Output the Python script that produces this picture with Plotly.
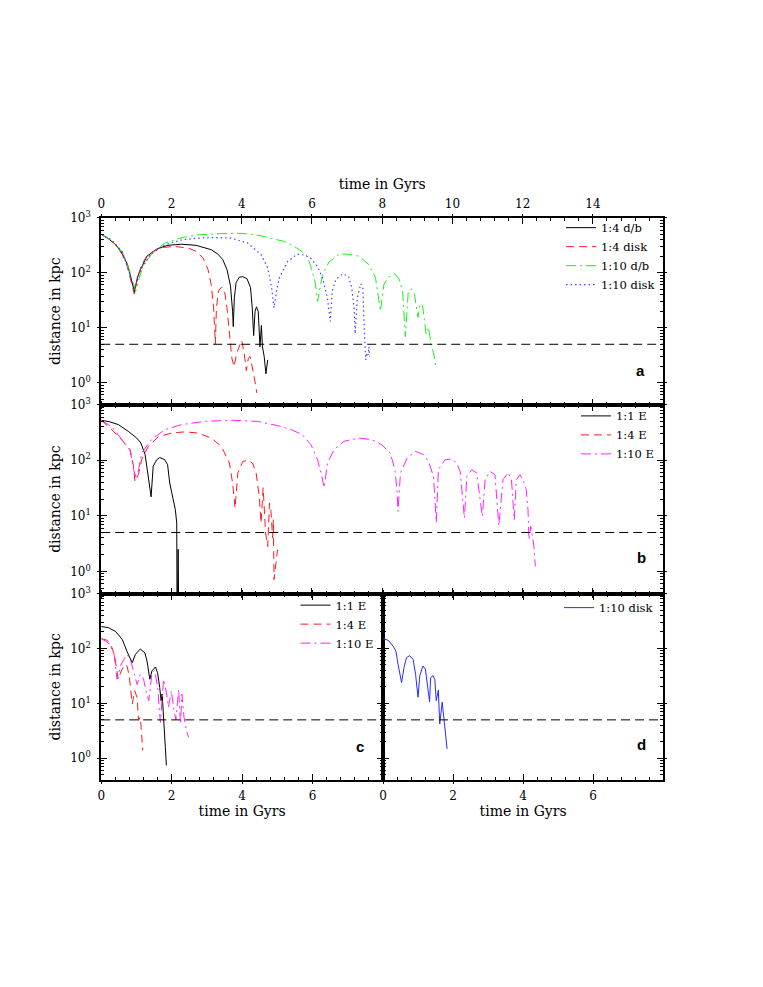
import plotly.graph_objects as go

FONT = "DejaVu Serif"

# ---------------- data: time in Gyr, distance in kpc ----------------
# panel a
a_db4_t = [0, 0.2, 0.4, 0.6, 0.75, 0.85, 0.95, 1.03, 1.12, 1.3, 1.6, 1.9, 2.28, 2.7, 3.0, 3.13, 3.32, 3.46,
           3.58, 3.68, 3.74, 3.76, 3.79, 3.84, 3.93, 4.03, 4.15, 4.25, 4.30, 4.34, 4.38, 4.42, 4.47, 4.52,
           4.56, 4.59, 4.64, 4.69, 4.74]
a_db4_d = [501, 417, 331, 224, 141, 79, 44, 83, 115, 200, 275, 316, 331, 316, 282, 263, 219, 174,
           115, 58, 20, 10.5, 35, 66, 83, 85, 78, 54, 23, 7.2, 20, 24, 20, 4.5,
           11, 4.5, 3.0, 1.45, 2.6]

a_disk4_t = [0, 0.2, 0.4, 0.6, 0.75, 0.87, 0.94, 1.0, 1.15, 1.34, 1.72, 2.09, 2.47, 2.71, 2.9, 3.04, 3.13,
             3.2, 3.25, 3.28, 3.34, 3.43, 3.51, 3.58, 3.66, 3.72, 3.78, 3.86, 4.0, 4.07, 4.13, 4.19, 4.24,
             4.3, 4.37, 4.43]
a_disk4_d = [501, 417, 331, 214, 126, 66, 41, 66, 141, 219, 288, 302, 282, 245, 186, 115, 62,
             23, 5.1, 23, 47, 55, 47, 23, 6.8, 2.8, 1.95, 3.5, 5.9, 3.5, 1.66, 2.8, 3.0,
             2.0, 1.12, 0.65]

a_db10_t = [0, 0.3, 0.6, 0.8, 0.92, 0.99, 1.06, 1.2, 1.45, 1.81, 2.3, 2.75, 3.3, 3.89, 4.3, 4.64, 5.2,
            5.45, 5.73, 5.87, 6.0, 6.1, 6.16, 6.3, 6.49, 6.77, 7.01, 7.34, 7.62, 7.81, 7.95, 8.05, 8.19,
            8.36, 8.47, 8.58, 8.66, 8.74, 8.83, 8.92, 9.02, 9.08, 9.15, 9.25, 9.32, 9.4, 9.46, 9.53]
a_db10_d = [501, 380, 240, 112, 63, 47, 71, 141, 224, 347, 437, 490, 513, 525, 501, 457, 372,
            316, 240, 200, 112, 63, 30, 93, 158, 219, 219, 200, 141, 81, 20, 62, 85,
            95, 79, 47, 6.9, 44, 51, 40, 15.5, 27.5, 25, 7.6, 10.2, 4.5, 3.5, 1.95]

a_disk10_t = [0, 0.3, 0.6, 0.78, 0.93, 1.0, 1.12, 1.4, 1.81, 2.3, 2.75, 3.2, 3.7, 4.17, 4.55, 4.74, 4.85,
              4.92, 5.0, 5.07, 5.3, 5.58, 5.8, 5.97, 6.16, 6.3, 6.44, 6.52, 6.58, 6.68, 6.87, 7.04, 7.13,
              7.2, 7.23, 7.29, 7.39, 7.45, 7.48, 7.5, 7.53, 7.57, 7.6, 7.62, 7.64]
a_disk10_d = [501, 398, 240, 112, 50, 63, 112, 214, 324, 398, 427, 437, 427, 347, 214, 123, 54,
              23, 50, 81, 158, 219, 209, 182, 129, 81, 35, 13, 47, 76, 95, 87, 54,
              23, 7.8, 35, 63, 52, 13.5, 5.1, 2.6, 3.5, 3.2, 4.5, 3.0]

# panel b
b_e1_t = [0, 0.25, 0.49, 0.77, 1.01, 1.13, 1.25, 1.32, 1.42, 1.48, 1.58, 1.67, 1.81, 1.89, 1.95, 2.05,
          2.11, 2.15, 2.16, 2.19, 2.21]
b_e1_d = [525, 490, 437, 331, 251, 204, 126, 59, 22, 78, 102, 112, 102, 83, 39, 19.5,
          12.9, 7.4, 0.1, 2.5, 0.1]

b_e4_t = [0, 0.3, 0.58, 0.82, 0.92, 0.96, 1.06, 1.15, 1.34, 1.62, 2.0, 2.38, 2.75, 3.13, 3.42, 3.65,
          3.74, 3.81, 3.89, 4.03, 4.17, 4.31, 4.41, 4.5, 4.55, 4.61, 4.68, 4.74, 4.79, 4.83, 4.88,
          4.9, 4.92, 5.02, 5.07]
b_e4_d = [525, 355, 234, 155, 78, 42, 56, 102, 178, 263, 309, 324, 309, 251, 178, 89,
          39, 13.8, 59, 95, 100, 89, 59, 22, 7.4, 32, 4.9, 2.8, 17, 12.6, 4.0,
          8.5, 0.71, 2.45, 2.0]

b_e10_t = [0, 0.3, 0.63, 0.82, 0.92, 1.01, 1.15, 1.43, 1.81, 2.28, 2.94, 3.7, 4.45, 5.11, 5.45, 5.73,
           5.97, 6.16, 6.28, 6.35, 6.44, 6.63, 6.91, 7.34, 7.71, 7.98, 8.23, 8.36, 8.42, 8.45, 8.52,
           8.71, 8.94, 9.18, 9.32, 9.46, 9.54, 9.6, 9.79, 9.98, 10.12, 10.22, 10.34, 10.41, 10.55,
           10.69, 10.85, 10.93, 11.07, 11.21, 11.32, 11.44, 11.59, 11.68, 11.76, 11.82, 11.92, 12.01,
           12.1, 12.15, 12.18, 12.23, 12.27, 12.32, 12.36]
b_e10_d = [525, 398, 219, 155, 68, 45, 135, 234, 355, 437, 501, 525, 501, 407, 347, 288,
           191, 102, 51, 32, 89, 155, 219, 251, 234, 191, 135, 68, 30, 12, 59,
           110, 145, 126, 95, 51, 7.6, 68, 102, 105, 89, 63, 9.1, 51, 68,
           59, 9.8, 45, 63, 55, 6.6, 45, 60, 45, 8.5, 45, 55, 45,
           30, 12.9, 3.7, 6.5, 4.6, 2.8, 1.23]

# panel c
c_e1_t = [0, 0.2, 0.41, 0.6, 0.73, 0.88, 0.97, 1.11, 1.24, 1.3, 1.38, 1.44, 1.54, 1.6, 1.66, 1.7,
          1.73, 1.77, 1.82, 1.85]
c_e1_d = [251, 240, 204, 145, 89, 55, 78, 98, 83, 59, 27.5, 39, 46, 36, 19.5, 11.2,
          14.8, 4.2, 1.58, 0.74]

c_e4_t = [0, 0.17, 0.31, 0.39, 0.48, 0.57, 0.67, 0.74, 0.8, 0.88, 0.95, 1.02, 1.06, 1.11, 1.18]
c_e4_d = [151, 141, 102, 68, 27.5, 39, 51, 47, 29.5, 9.8, 17, 12.6, 4.9, 5.6, 1.38]

c_e10_t = [0, 0.21, 0.36, 0.45, 0.55, 0.64, 0.74, 0.85, 0.95, 1.02, 1.11, 1.2, 1.28, 1.35, 1.44, 1.52,
           1.6, 1.68, 1.77, 1.85, 1.91, 1.99, 2.06, 2.12, 2.2, 2.25, 2.29, 2.35, 2.42, 2.48]
c_e10_d = [151, 126, 83, 27.5, 48, 63, 78, 56, 32, 22, 34, 28, 15.8, 11.2, 35, 40,
           20, 4.5, 27.5, 15.8, 8.5, 17, 7.9, 5.0, 18, 4.2, 14.8, 5.6, 3.2, 2.4]

# panel d
d_disk10_t = [0, 0.15, 0.29, 0.37, 0.43, 0.53, 0.6, 0.67, 0.76, 0.86, 0.93, 1.0, 1.05, 1.14, 1.21,
              1.27, 1.33, 1.36, 1.43, 1.48, 1.52, 1.58, 1.62, 1.69, 1.74, 1.83]
d_disk10_d = [151, 141, 110, 89, 51, 24, 45, 68, 74, 63, 34, 12.9, 32, 48, 42,
              19.5, 10.7, 29.5, 32, 27, 11.2, 17.4, 4.2, 10.5, 5.6, 1.48]

MERGER_RADIUS_KPC = 5.0

# tick labels
X_TICKS_WIDE = [0, 2, 4, 6, 8, 10, 12, 14]
X_TICKS_NARROW = [0, 2, 4, 6]
Y_TICKS = [1, 10, 100, 1000]
Y_TICK_TEXT = ["10<sup>0</sup>", "10<sup>1</sup>", "10<sup>2</sup>", "10<sup>3</sup>"]
X_TITLE = "time in Gyrs"
Y_TITLE = "distance in kpc"

# ---------------- geometry (page has an 8px body margin) ----------------
OFF = 8
W, H = 763 - 2 * OFF, 987 - 2 * OFF


def px(x):
    return (x - OFF) / W


def py(y):
    return 1 - (y - OFF) / H


XA = [px(97.7), px(662.7)]
XC = [px(97.7), px(381)]
XD = [px(381), px(662.7)]
YA = [py(399.3), py(210.7)]
YB = [py(590), py(399.3)]
YC = [py(778.3), py(590)]
YLOG = [-0.4, 3]

# ---------------- styles ----------------
BLACK = dict(color="black", width=1)
RED = dict(color="#ff1a1a", width=1, dash="8px,5px")
GREEN = dict(color="#1aee1a", width=1, dash="10px,4px,2px,4px")
BLUE_DOT = dict(color="#4444ff", width=1.2, dash="1.5px,3px")
MAGENTA = dict(color="#ff22ff", width=1, dash="10px,4px,2px,4px")
BLUE = dict(color="#2a2aff", width=1)
HLINE = dict(color="black", width=1, dash="9px,5px")

fig = go.Figure()


def add(t, d, name, line, ax, leg, show=True):
    fig.add_trace(go.Scatter(x=t, y=d, name=name, mode="lines", line=line,
                             xaxis=ax[0], yaxis=ax[1], legend=leg, showlegend=show,
                             hoverinfo="skip"))


# panel a
add(a_db4_t, a_db4_d, "1:4 d/b", BLACK, ("x", "y"), "legend")
add(a_disk4_t, a_disk4_d, "1:4 disk", RED, ("x", "y"), "legend")
add(a_db10_t, a_db10_d, "1:10 d/b", GREEN, ("x", "y"), "legend")
add(a_disk10_t, a_disk10_d, "1:10 disk", BLUE_DOT, ("x", "y"), "legend")
# panel b
add(b_e1_t, b_e1_d, "1:1 E", BLACK, ("x2", "y2"), "legend2")
add(b_e4_t, b_e4_d, "1:4 E", RED, ("x2", "y2"), "legend2")
add(b_e10_t, b_e10_d, "1:10 E", MAGENTA, ("x2", "y2"), "legend2")
# panel c
add(c_e1_t, c_e1_d, "1:1 E", BLACK, ("x3", "y3"), "legend3")
add(c_e4_t, c_e4_d, "1:4 E", RED, ("x3", "y3"), "legend3")
add(c_e10_t, c_e10_d, "1:10 E", MAGENTA, ("x3", "y3"), "legend3")
# panel d
add(d_disk10_t, d_disk10_d, "1:10 disk", BLUE, ("x4", "y4"), "legend4")

# merger radius lines
for ax, xmax in ((("x", "y"), 16), (("x2", "y2"), 16), (("x3", "y3"), 8), (("x4", "y4"), 8)):
    add([0, xmax], [MERGER_RADIUS_KPC, MERGER_RADIUS_KPC], "r", HLINE, ax, "legend", show=False)

# dummy traces so the overlay (outside-tick) axes are drawn
for i in range(5, 9):
    fig.add_trace(go.Scatter(x=[None], y=[None], xaxis=f"x{i}", yaxis=f"y{i}",
                             showlegend=False, hoverinfo="skip"))

tickfont = dict(family=FONT, size=12, color="black")
titlefont = dict(family=FONT, size=14, color="black")


def x_main(dom, anchor, xmax, ticks, labels, side="bottom", title=None):
    minor_vals = [round(i * 0.4, 2) for i in range(int(xmax / 0.4) + 1) if round(i * 0.4, 2) % 2 != 0]
    d = dict(domain=dom, anchor=anchor, range=[0, xmax], tickmode="array", tickvals=ticks,
             ticktext=[str(v) for v in ticks], showticklabels=labels, side=side,
             ticks="inside", ticklen=6, tickwidth=1.3, tickcolor="black",
             showline=True, linecolor="black", linewidth=2, mirror="ticks",
             showgrid=False, zeroline=False, tickfont=tickfont, ticklabelstandoff=3,
             minor=dict(tickmode="array", tickvals=minor_vals, ticks="inside", ticklen=3,
                        tickwidth=1, tickcolor="black", showgrid=False))
    if title:
        d["title"] = dict(text=title, font=titlefont, standoff=4)
    return d


def y_main(dom, anchor, labels, title=None):
    minor_vals = [k * 10 ** p for p in range(-1, 3) for k in range(2, 10) if k * 10 ** p > 0.45]
    d = dict(domain=dom, anchor=anchor, type="log", range=YLOG, tickmode="array",
             tickvals=Y_TICKS, ticktext=Y_TICK_TEXT, showticklabels=labels,
             ticks="inside", ticklen=6, tickwidth=1.3, tickcolor="black",
             showline=True, linecolor="black", linewidth=2, mirror="ticks",
             showgrid=False, zeroline=False, tickfont=tickfont, ticklabelstandoff=6,
             minor=dict(tickmode="array", tickvals=minor_vals, ticks="inside", ticklen=3,
                        tickwidth=1, tickcolor="black", showgrid=False))
    if title:
        d["title"] = dict(text=title, font=titlefont, standoff=6)
    return d


def x_over(base, anchor, xmax, ticks):
    return dict(overlaying=base, anchor=anchor, range=[0, xmax], tickmode="array", tickvals=ticks,
                ticks="outside", ticklen=3, tickwidth=1.3, tickcolor="black", showline=False,
                showticklabels=False, mirror="ticks", showgrid=False, zeroline=False)


def y_over(base, anchor):
    return dict(overlaying=base, anchor=anchor, type="log", range=YLOG, tickmode="array",
                tickvals=Y_TICKS, ticks="outside", ticklen=3, tickwidth=1.3, tickcolor="black",
                showline=False, showticklabels=False, mirror="ticks", showgrid=False,
                zeroline=False)


legend_common = dict(bgcolor="rgba(0,0,0,0)", borderwidth=0, xanchor="left", yanchor="top",
                     font=dict(family=FONT, size=11.5, color="black"), tracegroupgap=0)

fig.update_layout(
    width=W, height=H, autosize=False,
    margin=dict(l=0, r=0, t=0, b=0),
    paper_bgcolor="white", plot_bgcolor="rgba(0,0,0,0)",
    xaxis=x_main(XA, "y", 16, X_TICKS_WIDE, True, side="top", title=X_TITLE),
    yaxis=y_main(YA, "x", True, title=Y_TITLE),
    xaxis2=x_main(XA, "y2", 16, X_TICKS_WIDE, False),
    yaxis2=y_main(YB, "x2", True, title=Y_TITLE),
    xaxis3=x_main(XC, "y3", 8, X_TICKS_NARROW, True, title=X_TITLE),
    yaxis3=y_main(YC, "x3", True, title=Y_TITLE),
    xaxis4=x_main(XD, "y4", 8, X_TICKS_NARROW, True, title=X_TITLE),
    yaxis4=y_main(YC, "x4", False),
    xaxis5=x_over("x", "y5", 16, X_TICKS_WIDE),
    yaxis5=y_over("y", "x5"),
    xaxis6=x_over("x2", "y6", 16, X_TICKS_WIDE),
    yaxis6=y_over("y2", "x6"),
    xaxis7=x_over("x3", "y7", 8, X_TICKS_NARROW),
    yaxis7=y_over("y3", "x7"),
    xaxis8=x_over("x4", "y8", 8, X_TICKS_NARROW),
    yaxis8=y_over("y4", "x8"),
    legend=dict(legend_common, x=px(560), y=py(206)),
    legend2=dict(legend_common, x=px(575), y=py(396)),
    legend3=dict(legend_common, x=px(293), y=py(587)),
    legend4=dict(legend_common, x=px(558), y=py(589.5)),
    showlegend=True,
)

letter_font = dict(family="Liberation Sans", size=15, color="black")
for txt, lx, ly in (("a", 640, 365), ("b", 640.7, 554), ("c", 357.7, 744), ("d", 640.7, 742.7)):
    fig.add_annotation(text=f"<b>{txt}</b>", x=px(lx), y=py(ly), xref="paper", yref="paper",
                       showarrow=False, font=letter_font, xanchor="center", yanchor="middle")

fig.write_html("out.html")
